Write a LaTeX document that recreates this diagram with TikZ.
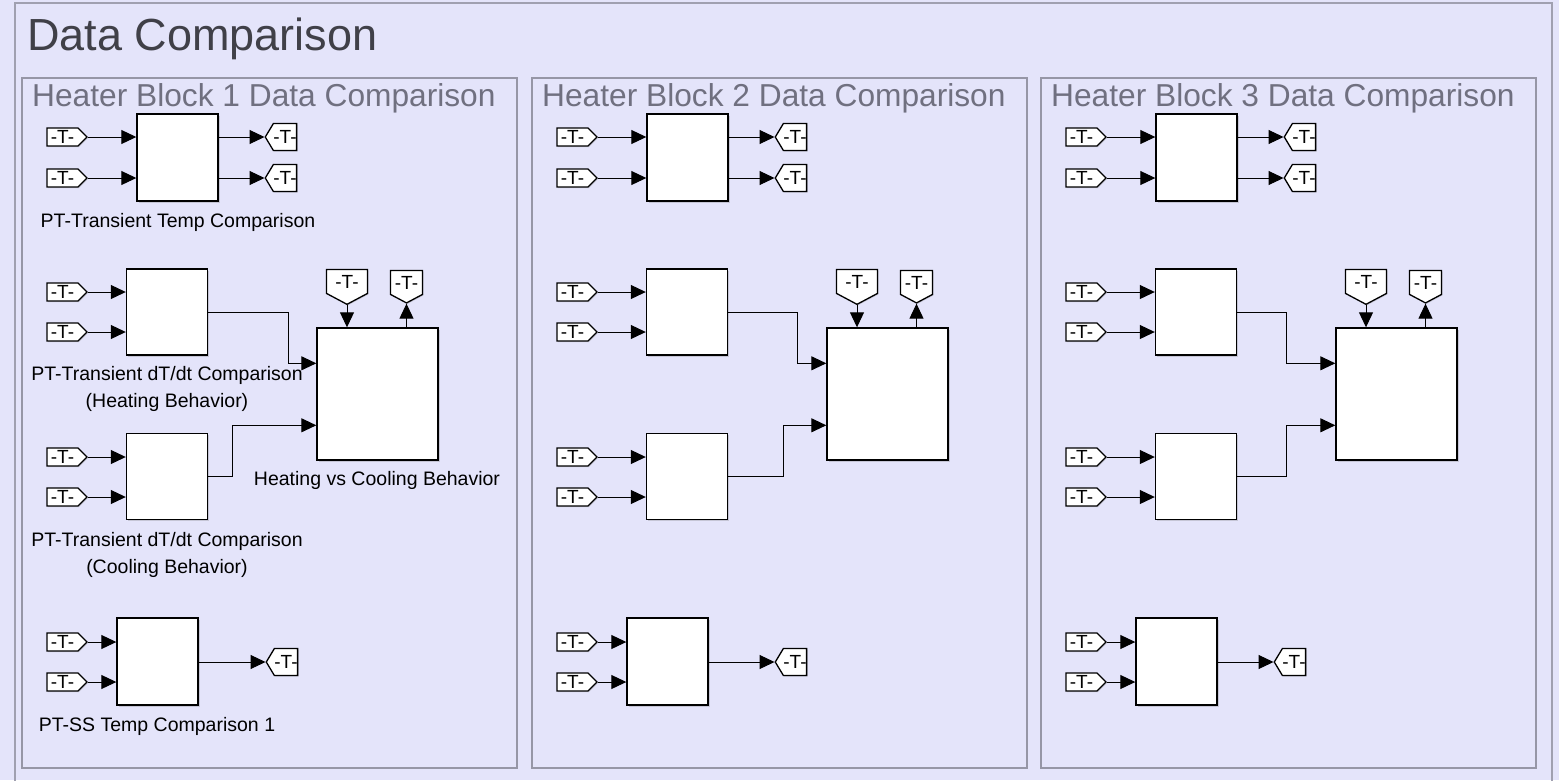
\documentclass[tikz,border=0pt]{standalone}
\usepackage{fontspec}
\setmainfont{Liberation Sans}
\usetikzlibrary{arrows.meta,shapes.symbols,shadows}
\definecolor{bg}{RGB}{228,228,250}
\definecolor{framegrey}{RGB}{160,160,176}
\definecolor{panelgrey}{RGB}{150,150,166}
\definecolor{titlegrey}{RGB}{64,64,72}
\definecolor{headgrey}{RGB}{112,112,128}
\tikzset{
  blk/.style={draw, fill=white, line width=1.4pt, inner sep=0, minimum width=81pt,
    drop shadow={shadow xshift=1.5pt, shadow yshift=-1.5pt, opacity=.3}},
  tag/.style={signal, draw, fill=white, line width=1.3pt, inner sep=0,
    font=\fontsize{19}{19}\selectfont,
    drop shadow={shadow xshift=1pt, shadow yshift=-1pt, opacity=.3}},
  src/.style={tag, signal to=east, minimum width=40pt, minimum height=18pt},
  dst/.style={tag, signal to=west, signal pointer angle=118, minimum width=30pt, minimum height=27pt},
  upt/.style={tag, signal to=south, signal pointer angle=124, minimum height=30pt},
  wire/.style={line width=1pt, -{Triangle[length=15pt,width=14pt]}},
  lbl/.style={font=\fontsize{19.5}{27}\selectfont, align=center, inner sep=0},
  mtitle/.style={anchor=base west, inner sep=0, text=titlegrey, font=\fontsize{45}{50}\selectfont},
  ptitle/.style={anchor=base west, inner sep=0, text=headgrey, font=\fontsize{31.7}{34}\selectfont},
}
\begin{document}
\begin{tikzpicture}[x=1pt,y=-1pt]
  \clip (0,0) rectangle (1559,780);
  \fill[bg] (0,0) rectangle (1559,780);
  \draw[framegrey, line width=1.2pt] (15,790) -- (15,3) -- (1552,3) -- (1552,790);
  \node[mtitle] (top) at (27,50) {Data Comparison};
  \foreach \ox/\bx/\rb/\rd/\gx/\p in {0/127/287/231/268/1, 510/137/286/272/267/2, 1019/137/266/266/257/3} {
    \begin{scope}[xshift=\ox pt]
      \draw[panelgrey, line width=1.2pt] (22,78) rectangle (517,768);
      \node[ptitle] (h\p) at (32,106) {Heater Block \p\ Data Comparison};
      % temperature comparison
      \node[blk, minimum height=87pt] (a\p) at (177.5,157.5) {};
      \node[src] (ai\p) at (62.5,137) {-T-};
      \node[src] (aj\p) at (62.5,178) {-T-};
      \node[dst] (ao\p) at (285,137) {-T-};
      \node[dst] (ap\p) at (285,178) {-T-};
      \draw[wire] (ai\p.east) -- (ai\p.east -| a\p.west);
      \draw[wire] (aj\p.east) -- (aj\p.east -| a\p.west);
      \draw[wire] (a\p.east |- ao\p.west) -- (ao\p.west);
      \draw[wire] (a\p.east |- ap\p.west) -- (ap\p.west);
      % heating / cooling
      \node[blk, minimum height=86pt] (b\p) at (\bx+40,312) {};
      \node[blk, minimum height=86pt] (d\p) at (\bx+40,476.5) {};
      \node[blk, minimum width=121pt, minimum height=132pt] (c\p) at (377.5,394) {};
      \path (c\p.north west) ++(0,36) coordinate (cp\p) ++(0,62) coordinate (cq\p);
      \node[src] (bi\p) at (62.5,292) {-T-};
      \node[src] (bj\p) at (62.5,332) {-T-};
      \node[src] (di\p) at (62.5,457) {-T-};
      \node[src] (dj\p) at (62.5,497) {-T-};
      \draw[wire] (bi\p.east) -- (bi\p.east -| b\p.west);
      \draw[wire] (bj\p.east) -- (bj\p.east -| b\p.west);
      \draw[wire] (di\p.east) -- (di\p.east -| d\p.west);
      \draw[wire] (dj\p.east) -- (dj\p.east -| d\p.west);
      \draw[wire] (b\p.east) -- ++({\rb-\bx-80},0) |- (cp\p);
      \draw[wire] (d\p.east) -- ++({\rd-\bx-80},0) |- (cq\p);
      \node[upt, minimum width=41pt] (ua\p) at (347,281.5) {-T-};
      \node[upt, minimum width=32pt] (ub\p) at (406.5,282.5) {-T-};
      \draw[wire] (ua\p.south) -- (ua\p.south |- c\p.north);
      \draw[wire] (ub\p.south |- c\p.north) -- (ub\p.south);
      % steady state
      \node[blk, minimum height=87pt] (e\p) at (157.5,661.5) {};
      \node[src] (ei\p) at (62.5,642) {-T-};
      \node[src] (ej\p) at (62.5,682) {-T-};
      \node[dst] (eo\p) at (\gx+18,662) {-T-};
      \draw[wire] (ei\p.east) -- (ei\p.east -| e\p.west);
      \draw[wire] (ej\p.east) -- (ej\p.east -| e\p.west);
      \draw[wire] (e\p.east |- eo\p.west) -- (eo\p.west);
    \end{scope}
  }
  \node[lbl] (la) at (178,222) {PT-Transient Temp Comparison};
  \node[lbl] (lb) at (167,389) {PT-Transient dT/dt Comparison\\(Heating Behavior)};
  \node[lbl] (lc) at (377,480) {Heating vs Cooling Behavior};
  \node[lbl] (ld) at (167,555) {PT-Transient dT/dt Comparison\\(Cooling Behavior)};
  \node[lbl] (le) at (157,726) {PT-SS Temp Comparison 1};
\end{tikzpicture}
\end{document}
